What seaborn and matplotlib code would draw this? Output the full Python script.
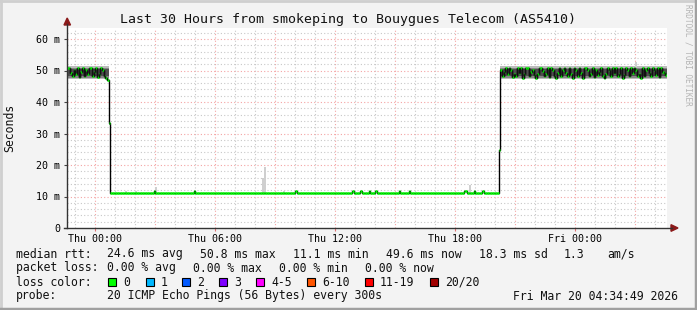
import numpy as np
import pandas as pd
import matplotlib
matplotlib.use("Agg")
import matplotlib.pyplot as plt
import seaborn as sns
from matplotlib.patches import Polygon, Rectangle
from matplotlib.lines import Line2D

# ---------------- data (hours relative to Thu 00:00, values in ms) ----------------
STEP_H = 1 / 12          # 300 s probe interval
START_H = -1.40          # first sample

high1_ms = [50.7, 50.7, 49.3, 48.3, 50.1, 48.9, 50.7, 47.9, 49.5, 50.7,
            48.3, 50.1, 48.9, 50.7, 50.7, 48.3, 49.5, 50.7, 47.9, 48.9,
            50.7, 50.1, 48.3, 47.6, 46.9]
drop_ms = 33.3
low_level_ms = 11.1
low_count = 233
low_bump_hours = [2.95, 4.95, 10.05, 12.85, 13.25, 13.65, 14.0, 15.15,
                  15.65, 18.4, 18.55, 18.9, 19.35]
low_bump_ms = 11.7
rise_ms = 24.8
high2_ms = [50.1, 48.3, 49.5, 50.7, 48.9, 50.7, 50.1, 47.9, 48.9, 48.3,
            50.7, 49.3, 50.7, 47.7, 48.9, 50.7, 50.7, 48.3, 49.5, 50.1,
            48.6, 47.7, 48.9, 50.7, 50.7, 49.9, 48.3, 48.9, 50.7, 47.9,
            50.7, 50.1, 48.3, 47.6, 49.1, 50.7, 48.3, 50.1, 50.7, 49.3,
            48.1, 50.7, 48.9, 47.7, 50.7, 50.1, 48.3, 50.7, 49.3, 47.6,
            50.7, 50.7, 50.1, 48.3, 48.9, 50.7, 47.9, 50.1, 48.6, 49.5,
            50.7, 48.3, 47.6, 48.9, 50.7, 50.1, 48.3, 50.7, 49.1, 50.7,
            48.3, 48.9, 50.7, 47.6, 48.6, 50.7, 50.1, 48.3, 50.7, 49.3,
            50.7, 50.1, 48.3, 48.9, 47.6, 50.7, 48.3, 50.1, 50.7, 49.1,
            48.3, 50.7, 50.1, 48.6, 50.7, 47.9, 50.7, 49.6, 49.1, 48.6]

spike_hours = [1.5, 2.0, 3.0, 8.35, 8.45, 9.4, 18.7, 27.0]
spike_ms = [11.8, 11.7, 13.0, 16.0, 19.3, 11.7, 13.8, 52.7]
drop_smoke_ms = [32.7, 34.8]

smoke_outer_ms = [47.2, 51.3]
smoke_mid_ms = [47.7, 50.9]
smoke_inner_ms = [48.2, 50.4]

tick_hours = [0, 6, 12, 18, 24]
tick_labels = ["Thu 00:00", "Thu 06:00", "Thu 12:00", "Thu 18:00", "Fri 00:00"]
ytick_ms = [0, 10, 20, 30, 40, 50, 60]
ytick_labels = ["0", "10 m", "20 m", "30 m", "40 m", "50 m", "60 m"]

loss_labels = ["0", "1", "2", "3", "4-5", "6-10", "11-19", "20/20"]
loss_colors = ["#00ff00", "#00b8ff", "#0059ff", "#7e00ff", "#ff00ff",
               "#ff5500", "#ff0000", "#a10000"]

# ---------------- build series ----------------
low_ms = [low_level_ms] * low_count
median = np.array(high1_ms + [drop_ms] + low_ms + [rise_ms] + high2_ms, dtype=float)
hours = START_H + np.arange(len(median)) * STEP_H
for h in low_bump_hours:
    median[int(round((h - START_H) / STEP_H))] = low_bump_ms

n1 = len(high1_ms)
i_low0 = n1 + 1
i_high2 = i_low0 + low_count + 1

# ---------------- figure ----------------
W, H = 697, 310
def fx(x): return x / W
def fy(y): return 1 - y / H

mono = "DejaVu Sans Mono"
plt.rcParams["font.family"] = mono

fig = plt.figure(figsize=(W / 100, H / 100), dpi=100)
fig.patch.set_facecolor("#f3f3f3")
ax = fig.add_axes([fx(67), fy(228), 600 / W, 200 / H])
ax.set_facecolor("#ffffff")
ax.set_xlim(-1.4, 28.6)
ax.set_ylim(0, 200 / 3.15)

# grid
for h in np.arange(-1, 29, 1):
    if h % 3 == 0:
        ax.axvline(h, color="#f4a4a4", lw=0.8, ls=(0, (1, 2)), zorder=0)
    else:
        ax.axvline(h, color="#c8c8c8", lw=0.8, ls=(0, (1, 2)), zorder=0)
for v in np.arange(2, 64, 2):
    if v % 10 == 0:
        ax.axhline(v, color="#f4a4a4", lw=0.8, ls=(0, (1, 2)), zorder=0)
    else:
        ax.axhline(v, color="#c8c8c8", lw=0.8, ls=(0, (1, 2)), zorder=0)

# smoke: high segments
for a, b in [(0, n1), (i_high2, len(median))]:
    t = np.append(hours[a:b], hours[b - 1] + STEP_H)
    for (lo, hi), c in [(smoke_outer_ms, "#bcbcbc"), (smoke_mid_ms, "#858585"),
                        (smoke_inner_ms, "#4e4e4e")]:
        ax.fill_between(t, lo, hi, color=c, lw=0, zorder=2)
# smoke spikes
for h, v in zip(spike_hours, spike_ms):
    base = 51.0 if v > 40 else low_level_ms
    ax.fill_between([h, h + STEP_H], base, v, color="#cfcfcf", lw=0, zorder=2)
ax.fill_between([hours[n1], hours[n1] + STEP_H], drop_smoke_ms[0], drop_smoke_ms[1],
                color="#9a9a9a", lw=0, zorder=2)

# median black step line
df = pd.DataFrame({"hours": np.append(hours, hours[-1] + STEP_H),
                   "median": np.append(median, median[-1])})
sns.lineplot(data=df, x="hours", y="median", drawstyle="steps-post",
             color="black", lw=1.0, ax=ax, zorder=4)
# median coloured by loss (all 0 loss -> green)
ax.hlines(median, hours, hours + STEP_H, colors=loss_colors[0], lw=1.8, zorder=5)
# black step connectors on top inside the noisy high segments
for a, b in [(0, n1), (i_high2, len(median))]:
    ax.vlines(hours[a + 1:b], median[a:b - 1], median[a + 1:b],
              colors="#111111", lw=1.0, zorder=6)

ax.set_xlabel("")
ax.set_ylabel("")
ax.set_xticks(tick_hours)
ax.set_xticklabels(tick_labels, fontsize=7.2, family=mono)
ax.set_yticks(ytick_ms)
ax.set_yticklabels(ytick_labels, fontsize=7.2, family=mono)
ax.tick_params(axis="x", length=2, color="#e07070", pad=2.5)
ax.tick_params(axis="y", length=2, color="#444444", pad=3)
for s in ["top", "right", "left", "bottom"]:
    ax.spines[s].set_visible(False)

# axes with arrows
fig.add_artist(Line2D([fx(67), fx(67)], [fy(228), fy(24)], color="#333333", lw=1))
fig.add_artist(Line2D([fx(64), fx(672)], [fy(228), fy(228)], color="#333333", lw=1))
fig.add_artist(Polygon([[fx(64), fy(25)], [fx(70.5), fy(25)], [fx(67.2), fy(18)]],
                       closed=True, color="#8b1a1a"))
fig.add_artist(Polygon([[fx(671), fy(224.7)], [fx(671), fy(231.3)], [fx(678), fy(228)]],
                       closed=True, color="#8b1a1a"))

# texts
fig.text(fx(348), fy(19), "Last 30 Hours from smokeping to Bouygues Telecom (AS5410)",
         ha="center", va="center", fontsize=9.5, family=mono, color="#111111")
fig.text(fx(10), fy(128), "Seconds", rotation=90, ha="center", va="center",
         fontsize=8.3, family=mono, color="#111111")
fig.text(fx(688), fy(4), "RRDTOOL / TOBI OETIKER", rotation=270, ha="center", va="top",
         fontsize=5.6, family=mono, color="#b4b4b4")

fs = 8.3
rows = {
    254: [(16, "median rtt:"), (107, "24.6 ms avg"), (200, "50.8 ms max"),
          (293, "11.1 ms min"), (386, "49.6 ms now"), (479, "18.3 ms sd"),
          (564, "1.3"), (607, "am/s")],
    268: [(16, "packet loss:"), (107, "0.00 % avg"), (193, "0.00 % max"),
          (279, "0.00 % min"), (365, "0.00 % now")],
    282: [(16, "loss color:")],
    296: [(16, "probe:"), (107, "20 ICMP Echo Pings (56 Bytes) every 300s"),
          (513, "Fri Mar 20 04:34:49 2026")],
}
for y, items in rows.items():
    for x, s in items:
        fig.text(fx(x), fy(y), s, ha="left", va="center", fontsize=fs,
                 family=mono, color="#111111")

box_x = [108, 146, 182, 219, 256, 307, 365, 430]
for bx, lab, col in zip(box_x, loss_labels, loss_colors):
    fig.add_artist(Rectangle((fx(bx), fy(286)), 8 / W, 8 / H, facecolor=col,
                             edgecolor="black", lw=0.8))
    fig.text(fx(bx + 15), fy(282), lab, ha="left", va="center", fontsize=fs,
             family=mono, color="#111111")

# frame border
fig.add_artist(Line2D([0, 1], [fy(1), fy(1)], color="#cfcfcf", lw=2))
fig.add_artist(Line2D([fx(1), fx(1)], [0, 1], color="#cfcfcf", lw=2))
fig.add_artist(Line2D([0, 1], [fy(308.5), fy(308.5)], color="#a0a0a0", lw=2.5))
fig.add_artist(Line2D([fx(695.5), fx(695.5)], [0, 1], color="#a0a0a0", lw=2.5))

fig.savefig("out.png", dpi=100, facecolor=fig.get_facecolor())
